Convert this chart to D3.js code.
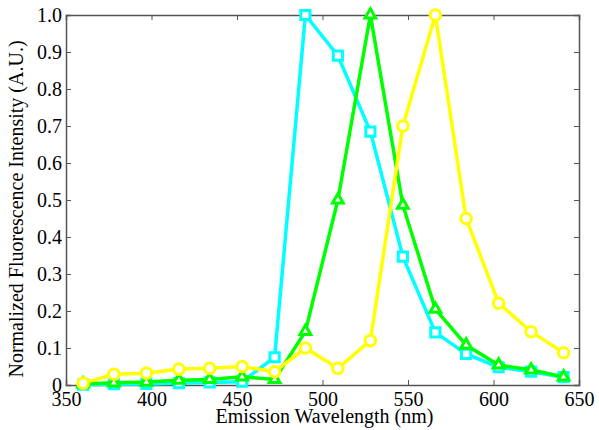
<!DOCTYPE html>
<html>
<head>
<meta charset="utf-8">
<script src="https://cdn.jsdelivr.net/npm/d3@7"></script>
<style>
  body { margin: 0; background: #fff; }
  svg text { font-family: "Liberation Serif", "Times New Roman", "DejaVu Serif", serif; }
</style>
</head>
<body>
<div id="chart"></div>
<script>
// emission wavelengths (nm)
var wavelengths = [360, 378, 397, 416, 434, 453, 472, 490, 509, 528, 547, 566, 584, 603, 622, 641];

// normalized intensities
var cyanValues   = [0.001, 0.002, 0.003, 0.005, 0.007, 0.009, 0.075, 1.0, 0.89, 0.685, 0.347, 0.142, 0.084, 0.048, 0.036, 0.021];
var greenValues  = [0.003, 0.006, 0.008, 0.013, 0.015, 0.022, 0.015, 0.145, 0.50, 1.0, 0.486, 0.205, 0.108, 0.054, 0.041, 0.022];
var yellowValues = [0.005, 0.029, 0.032, 0.043, 0.045, 0.05, 0.036, 0.10, 0.045, 0.12, 0.70, 1.0, 0.45, 0.221, 0.144, 0.087];

var xTicks = [350, 400, 450, 500, 550, 600, 650];
var yTicks = [0, 0.1, 0.2, 0.3, 0.4, 0.5, 0.6, 0.7, 0.8, 0.9, 1.0];

var margin = { top: 15, right: 20, bottom: 45, left: 66 };
var width = 599 - margin.left - margin.right;
var height = 430 - margin.top - margin.bottom;

var xScale = d3.scaleLinear().domain([350, 650]).range([0, width]);
var yScale = d3.scaleLinear().domain([0, 1]).range([height, 0]);

var root = d3.select("#chart").append("svg")
    .attr("width", 599)
    .attr("height", 430);
var svg = root.append("g")
    .attr("transform", "translate(" + margin.left + "," + margin.top + ")");

var axisColor = "#555";
var fmtY = function (d) { return d === 0 ? "0" : d3.format(".1f")(d); };

// bottom / left axes with labels, ticks pointing inward
var xAxis = svg.append("g")
    .attr("transform", "translate(0," + height + ")")
    .call(d3.axisBottom(xScale).tickValues(xTicks).tickSize(-5).tickPadding(7).tickFormat(d3.format("d")));
var yAxis = svg.append("g")
    .call(d3.axisLeft(yScale).tickValues(yTicks).tickSize(-5).tickPadding(4).tickFormat(fmtY));
// top / right axes, ticks only
var xTop = svg.append("g")
    .call(d3.axisTop(xScale).tickValues(xTicks).tickSize(-5).tickFormat(""));
var yRight = svg.append("g")
    .attr("transform", "translate(" + width + ",0)")
    .call(d3.axisRight(yScale).tickValues(yTicks).tickSize(-5).tickFormat(""));

[xAxis, yAxis, xTop, yRight].forEach(function (g) {
    g.attr("font-family", null).attr("font-size", null);
    g.select(".domain").attr("stroke", axisColor).attr("stroke-width", 1.5);
    g.selectAll(".tick line").attr("stroke", axisColor);
    g.selectAll(".tick text").attr("fill", "#000").style("font-size", "20px");
});

var line = d3.line()
    .x(function (d) { return xScale(d.x); })
    .y(function (d) { return yScale(d.y); });

var series = [
    { values: cyanValues, color: "#00ffff", marker: "square" },
    { values: greenValues, color: "#00ff00", marker: "triangle" },
    { values: yellowValues, color: "#ffff00", marker: "circle" }
];

series.forEach(function (s) {
    var pts = wavelengths.map(function (w, i) { return { x: w, y: s.values[i] }; });

    svg.append("path")
        .datum(pts)
        .attr("fill", "none")
        .attr("stroke", s.color)
        .attr("stroke-width", 3.5)
        .attr("d", line);

    var sym = s.marker === "square" ? d3.symbolSquare : s.marker === "triangle" ? d3.symbolTriangle : d3.symbolCircle;
    var size = s.marker === "square" ? 85 : s.marker === "triangle" ? 50 : 88;

    svg.selectAll(".m-" + s.marker)
        .data(pts)
        .enter().append("path")
        .attr("class", "m-" + s.marker)
        .attr("transform", function (d) {
            return "translate(" + xScale(d.x) + "," + yScale(d.y) + ")";
        })
        .attr("d", d3.symbol().type(sym).size(size))
        .attr("fill", "#fff")
        .attr("stroke", s.color)
        .attr("stroke-width", 3);
});

// axis titles
svg.append("text")
    .attr("x", width / 2 + 2)
    .attr("y", height + 38)
    .attr("text-anchor", "middle")
    .style("font-size", "20px")
    .text("Emission Wavelength (nm)");

svg.append("text")
    .attr("transform", "translate(" + (-43) + "," + (height / 2 + 9) + ") rotate(-90)")
    .attr("text-anchor", "middle")
    .style("font-size", "20px")
    .text("Normalized Fluorescence Intensity (A.U.)");
</script>
</body>
</html>
